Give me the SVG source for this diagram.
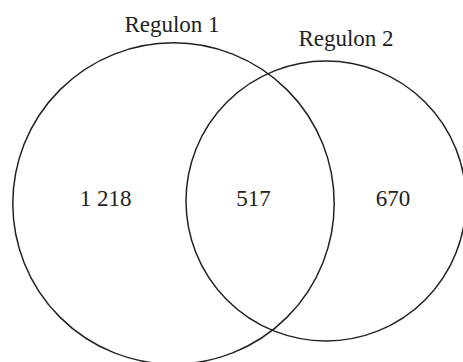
<svg xmlns="http://www.w3.org/2000/svg" width="463" height="362" viewBox="0 0 463 362">
<style>
.c{fill:none;stroke:#222;stroke-width:1.5}
.t{font-family:"Liberation Serif","Times New Roman",serif;font-size:23px;fill:#222;text-anchor:middle}
</style>
<rect width="463" height="362" fill="#fff"/>
<g id="regulon1">
<circle class="c" cx="173.5" cy="203.5" r="160.7"/>
<text class="t" x="172" y="32">Regulon 1</text>
<text class="t" x="105.5" y="206">1 218</text>
</g>
<g id="regulon2">
<circle class="c" cx="326" cy="201" r="140"/>
<text class="t" x="346" y="46">Regulon 2</text>
<text class="t" x="393" y="206">670</text>
</g>
<g id="intersection">
<text class="t" x="253.5" y="206">517</text>
</g>
<g id="connectors"/>
</svg>
